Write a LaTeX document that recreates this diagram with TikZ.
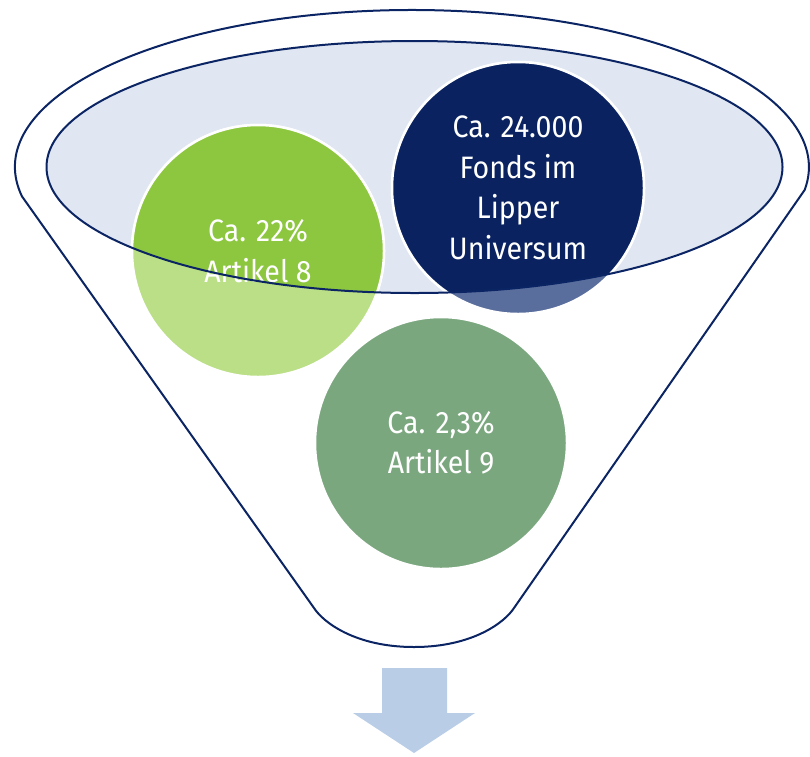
\documentclass[tikz,border=0pt]{standalone}
\usepackage{fontspec}
\setmainfont[FakeStretch=0.92]{Fira Sans}
\definecolor{navyline}{HTML}{0B2463}
\definecolor{topfill}{HTML}{E0E7F2}
\definecolor{greenin}{HTML}{8DC63F}
\definecolor{greenout}{HTML}{BADF86}
\definecolor{navyin}{HTML}{0A2360}
\definecolor{navyout}{HTML}{5A6E9D}
\definecolor{sage}{HTML}{7BA77F}
\definecolor{arrowblue}{HTML}{B9CEE6}
\tikzset{
  ball/.style={circle, minimum size=252pt, inner sep=0pt, draw=white, line width=2.5pt},
  balltext/.style={text=white, align=center, font=\fontsize{31}{40.5}\selectfont},
  outline/.style={draw=navyline, line width=2pt}
}
\begin{document}
\begin{tikzpicture}[x=1pt, y=-1pt]
  \useasboundingbox (0,0) rectangle (810,756);
  % funnel mouth
  \path[fill=topfill] (414.5,167) ellipse[x radius=368, y radius=126];
  % balls, the parts below the mouth
  \node[ball, fill=greenout] (b1) at (258,251) {};
  \node[ball, fill=navyout]  (b2) at (518,188) {};
  \node[ball, fill=sage]     (b3) at (441,443) {};
  % balls, the parts inside the mouth
  \begin{scope}
    \clip (414.5,167) ellipse[x radius=368, y radius=126];
    \node[ball, fill=greenin] at (b1) {};
    \node[ball, fill=navyin]  at (b2) {};
  \end{scope}
  % labels
  \node[balltext] (t1) at (b1) {Ca. 22\%\\Artikel 8};
  \node[balltext] (t2) at (b2) {Ca. 24.000\\Fonds im\\Lipper\\Universum};
  \node[balltext] (t3) at (b3) {Ca. 2,3\%\\Artikel 9};
  % rim of the mouth
  \draw[outline] (414.5,167) ellipse[x radius=368, y radius=126];
  % funnel body
  \draw[outline, line join=round]
    (22,196.4) arc[start angle=169.2, end angle=368.4, x radius=397, y radius=157]
    -- (514,608)
    .. controls (505,622) and (473,647) .. (414,647)
    .. controls (355,647) and (323,622) .. (314,608)
    -- cycle;
  % arrow below the funnel
  \fill[arrowblue] (382,668) -- (447,668) -- (447,713) -- (475,713)
    -- (414,753) -- (353,713) -- (382,713) -- cycle;
\end{tikzpicture}
\end{document}
